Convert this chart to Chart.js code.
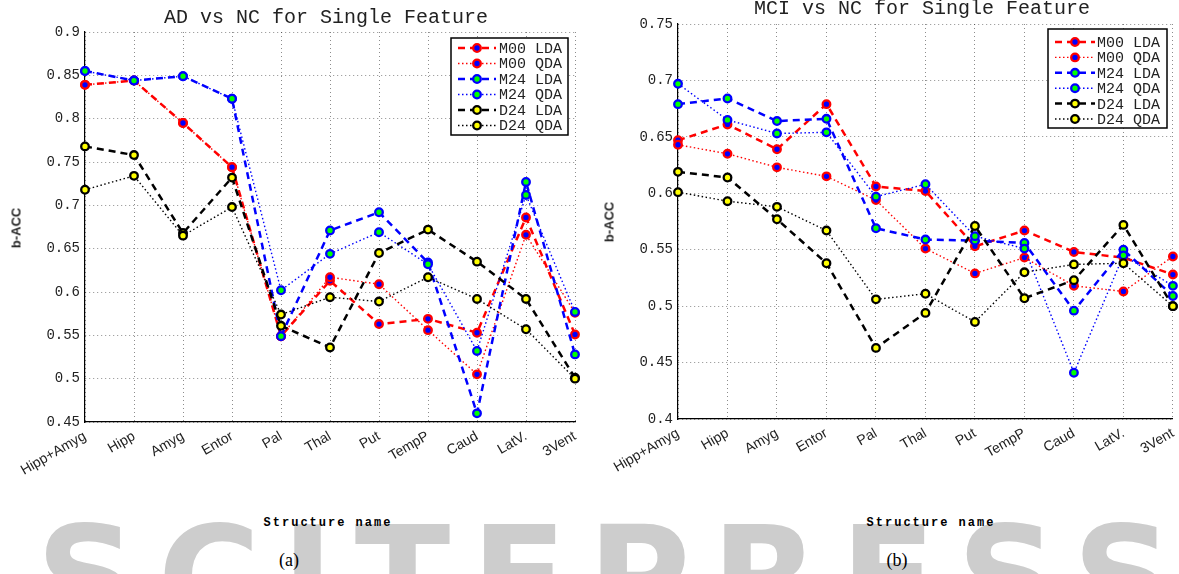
<!DOCTYPE html>
<html>
<head>
    <script src="https://cdn.jsdelivr.net/npm/chart.js"></script>
    <title>Single Feature b-ACC</title>
    <style>
        body { margin: 0; background: #fff; width: 1179px; height: 574px; overflow: hidden; position: relative; }
        canvas { position: absolute; top: 0; }
        .txt { position: absolute; white-space: nowrap; color: #222; transform: translate(-50%, -50%); }
        .title { font: 20px "Liberation Mono", monospace; }
        .ylab { font: bold 13px "Liberation Sans", sans-serif; transform: translate(-50%, -50%) rotate(-90deg); }
        .xlab { font: bold 12px "Liberation Mono", monospace; letter-spacing: 2px; color: #000; }
        .cap { font: 18px "Liberation Serif", serif; color: #000; }
        .wm { position: absolute; left: 36px; top: 509px; font: bold 140px "DejaVu Sans", sans-serif; line-height: 140px;
              color: #cdcdcd; letter-spacing: 21px; white-space: nowrap; }
    </style>
</head>
<body>
    <div class="wm">SCITEPRESS</div>

    <canvas id="chartA" width="600" height="480" style="left:0"></canvas>
    <canvas id="chartB" width="579" height="480" style="left:600px"></canvas>

    <div class="txt title" style="left:326px; top:17px">AD vs NC for Single Feature</div>
    <div class="txt title" style="left:922px; top:8px">MCI vs NC for Single Feature</div>
    <div class="txt ylab" style="left:16px; top:228px">b-ACC</div>
    <div class="txt ylab" style="left:609px; top:222px">b-ACC</div>
    <div class="txt xlab" style="left:328px; top:523px">Structure name</div>
    <div class="txt xlab" style="left:931px; top:523px">Structure name</div>
    <div class="txt cap" style="left:289px; top:560px">(a)</div>
    <div class="txt cap" style="left:897px; top:560px">(b)</div>

    <script>
        const structures = ['Hipp+Amyg', 'Hipp', 'Amyg', 'Entor', 'Pal', 'Thal', 'Put', 'TempP', 'Caud', 'LatV.', '3Vent'];

        // (a) AD vs NC
        const adM00Lda = [0.839, 0.844, 0.795, 0.744, 0.549, 0.613, 0.563, 0.569, 0.553, 0.686, 0.551];
        const adM00Qda = [0.839, 0.844, 0.795, 0.744, 0.549, 0.617, 0.609, 0.556, 0.505, 0.666, 0.576];
        const adM24Lda = [0.855, 0.844, 0.849, 0.823, 0.549, 0.671, 0.692, 0.634, 0.460, 0.727, 0.528];
        const adM24Qda = [0.855, 0.844, 0.849, 0.823, 0.602, 0.644, 0.669, 0.632, 0.532, 0.712, 0.577];
        const adD24Lda = [0.768, 0.758, 0.668, 0.732, 0.561, 0.536, 0.645, 0.672, 0.635, 0.592, 0.501];
        const adD24Qda = [0.718, 0.734, 0.665, 0.698, 0.574, 0.594, 0.589, 0.617, 0.592, 0.557, 0.500];

        // (b) MCI vs NC
        const mciM00Lda = [0.647, 0.661, 0.639, 0.679, 0.606, 0.602, 0.553, 0.567, 0.548, 0.543, 0.528];
        const mciM00Qda = [0.643, 0.635, 0.623, 0.615, 0.594, 0.551, 0.529, 0.543, 0.518, 0.513, 0.544];
        const mciM24Lda = [0.679, 0.684, 0.664, 0.666, 0.569, 0.559, 0.558, 0.556, 0.496, 0.550, 0.509];
        const mciM24Qda = [0.697, 0.665, 0.653, 0.654, 0.597, 0.608, 0.562, 0.551, 0.441, 0.545, 0.518];
        const mciD24Lda = [0.619, 0.614, 0.577, 0.538, 0.463, 0.494, 0.571, 0.507, 0.523, 0.572, 0.500];
        const mciD24Qda = [0.601, 0.593, 0.588, 0.567, 0.506, 0.511, 0.486, 0.530, 0.537, 0.538, 0.500];

        const seriesNames = ['M00 LDA', 'M00 QDA', 'M24 LDA', 'M24 QDA', 'D24 LDA', 'D24 QDA'];

        function makeDataset(label, values, color, fill, dashed, order) {
            return {
                label: label,
                data: values,
                borderColor: color,
                borderWidth: dashed ? 2.5 : 1.4,
                borderDash: dashed ? [7, 5] : [1.5, 2.5],
                pointRadius: 3.8,
                pointHoverRadius: 3.8,
                pointBorderWidth: 2.3,
                pointBackgroundColor: fill,
                pointBorderColor: color,
                fill: false,
                tension: 0,
                clip: false,
                order: order
            };
        }

        function makeDatasets(m00l, m00q, m24l, m24q, d24l, d24q) {
            return [
                makeDataset(seriesNames[0], m00l, '#ff0000', '#0000ff', true, 6),
                makeDataset(seriesNames[1], m00q, '#ff0000', '#0000ff', false, 5),
                makeDataset(seriesNames[2], m24l, '#0000ff', '#00ff00', true, 4),
                makeDataset(seriesNames[3], m24q, '#0000ff', '#00ff00', false, 3),
                makeDataset(seriesNames[4], d24l, '#000000', '#ffff00', true, 2),
                makeDataset(seriesNames[5], d24q, '#000000', '#ffff00', false, 1)
            ];
        }

        // boxed legend like the matlab one
        const boxLegend = {
            id: 'boxLegend',
            afterDraw(chart, args, opts) {
                const ctx = chart.ctx;
                ctx.save();
                ctx.fillStyle = '#fff';
                ctx.fillRect(opts.x, opts.y, opts.w, opts.h);
                ctx.strokeStyle = '#000';
                ctx.lineWidth = 1.5;
                ctx.strokeRect(opts.x, opts.y, opts.w, opts.h);
                ctx.font = '15px "Liberation Mono", monospace';
                ctx.textBaseline = 'middle';
                chart.data.datasets.forEach((ds, i) => {
                    const cy = opts.y + opts.first + i * opts.rowH;
                    ctx.setLineDash(ds.borderDash);
                    ctx.strokeStyle = ds.borderColor;
                    ctx.lineWidth = ds.borderWidth;
                    ctx.beginPath();
                    ctx.moveTo(opts.x + 7, cy);
                    ctx.lineTo(opts.x + opts.mx * 2 - 7, cy);
                    ctx.stroke();
                    ctx.setLineDash([]);
                    ctx.fillStyle = ds.pointBackgroundColor;
                    ctx.lineWidth = ds.pointBorderWidth;
                    ctx.beginPath();
                    ctx.arc(opts.x + opts.mx, cy, ds.pointRadius, 0, Math.PI * 2);
                    ctx.fill();
                    ctx.stroke();
                    ctx.fillStyle = '#222';
                    ctx.fillText(ds.label, opts.x + opts.tx, cy + 1);
                });
                ctx.restore();
            }
        };

        function makeOptions(yMin, yMax, yWidth, xHeight, pad, legendBox) {
            return {
                responsive: false,
                animation: false,
                layout: { padding: pad },
                plugins: {
                    legend: { display: false },
                    tooltip: { enabled: false },
                    boxLegend: legendBox
                },
                scales: {
                    x: {
                        type: 'category',
                        offset: false,
                        grid: { color: 'rgba(0,0,0,0.45)', drawTicks: false, lineWidth: 1 },
                        border: { color: '#000', width: 1.2, dash: [1, 3] },
                        ticks: {
                            autoSkip: false, maxRotation: 30, minRotation: 30, padding: 6,
                            color: '#222', font: { family: '"Liberation Sans", sans-serif', size: 14 }
                        },
                        afterFit: s => { s.height = xHeight; s.paddingLeft = 0; s.paddingRight = 0; }
                    },
                    y: {
                        min: yMin,
                        max: yMax,
                        grid: { color: 'rgba(0,0,0,0.45)', drawTicks: false, lineWidth: 1 },
                        border: { color: '#000', width: 1.2, dash: [1, 3] },
                        ticks: {
                            stepSize: 0.05, padding: 5, color: '#222',
                            font: { family: '"Liberation Mono", monospace', size: 14 },
                            callback: v => String(parseFloat(v.toFixed(2)))
                        },
                        afterFit: s => { s.width = yWidth; }
                    }
                }
            };
        }

        new Chart(document.getElementById('chartA').getContext('2d'), {
            type: 'line',
            data: {
                labels: structures,
                datasets: makeDatasets(adM00Lda, adM00Qda, adM24Lda, adM24Qda, adD24Lda, adD24Qda)
            },
            options: makeOptions(0.45, 0.9, 85, 58, { top: 32, right: 25, left: 0, bottom: 0 },
                { x: 451, y: 38, w: 117, h: 97, first: 10, rowH: 15.5, mx: 26, tx: 48 }),
            plugins: [boxLegend]
        });

        new Chart(document.getElementById('chartB').getContext('2d'), {
            type: 'line',
            data: {
                labels: structures,
                datasets: makeDatasets(mciM00Lda, mciM00Qda, mciM24Lda, mciM24Qda, mciD24Lda, mciD24Qda)
            },
            options: makeOptions(0.4, 0.75, 78, 61, { top: 24, right: 6, left: 0, bottom: 0 },
                { x: 448, y: 29, w: 119, h: 99, first: 13, rowH: 15.4, mx: 27, tx: 49 }),
            plugins: [boxLegend]
        });
    </script>
</body>
</html>
